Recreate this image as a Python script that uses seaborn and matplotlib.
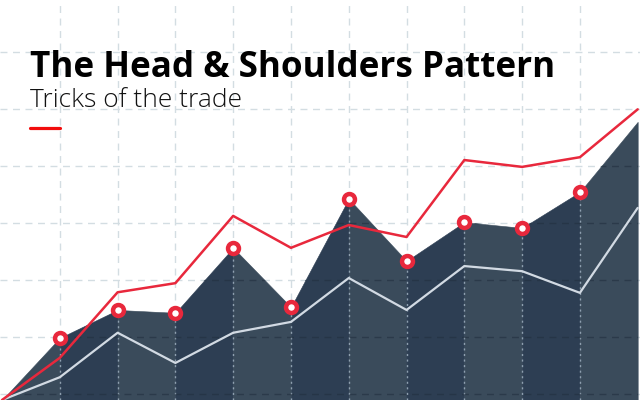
import numpy as np
import pandas as pd
import matplotlib
matplotlib.use("Agg")
import matplotlib.pyplot as plt
from matplotlib.patches import Polygon
from matplotlib.lines import Line2D
import seaborn as sns

# ---- data (chart units, one grid step = 1) ----
steps = list(range(12))
price = [0.0, 1.09, 1.58, 1.53, 2.67, 1.63, 3.53, 2.44, 3.12, 3.02, 3.65, 4.88]
upper = [0.0, 0.74, 1.89, 2.05, 3.23, 2.67, 3.07, 2.86, 4.21, 4.09, 4.26, 5.10]
lower = [0.0, 0.40, 1.18, 0.65, 1.18, 1.37, 2.14, 1.58, 2.35, 2.26, 1.88, 3.37]
marked = [1, 2, 3, 4, 5, 6, 7, 8, 9, 10]
title = "The Head & Shoulders Pattern"
subtitle = "Tricks of the trade"

df = pd.DataFrame({"step": steps, "price": price, "upper": upper, "lower": lower})
dm = df[df["step"].isin(marked)]

sns.set_style("white")
plt.rcParams["font.family"] = ["Open Sans", "DejaVu Sans"]

fig = plt.figure(figsize=(6.4, 4), dpi=100)
ax = fig.add_axes([0, 0, 1, 1])
YMIN, YMAX = 0.0, 7.018
ax.set_xlim(-0.035, 11.04)
ax.set_ylim(YMIN, YMAX)

# background grid
gridy = np.arange(0.1, 7.0, 1.0)
ax.set_xticks(steps[1:11])
ax.set_yticks(gridy)
ax.grid(True, color="#d3dde2", lw=1.0, ls=(0, (5, 4)))
ax.tick_params(length=0, labelbottom=False, labelleft=False)
for s in ax.spines.values():
    s.set_visible(False)
ax.set_axisbelow(True)

# banded area
light, dark = "#3a4b5b", "#2d3e53"
for i in range(len(steps) - 1):
    c = light if i % 2 == 0 else dark
    ax.fill_between(steps[i:i + 2], [YMIN, YMIN], price[i:i + 2],
                    color=c, lw=0.4, edgecolor=c, zorder=2)

clip = Polygon([(0, YMIN)] + list(zip(steps, price)) + [(11, YMIN)],
               closed=True, transform=ax.transData)

# grid inside the area
for x in steps[1:11]:
    ln, = ax.plot([x, x], [YMIN, YMAX], color="#8fa0b0", lw=1.0,
                  ls=(0, (1.5, 2.5)), zorder=3)
    ln.set_clip_path(clip)
for y in gridy:
    ln, = ax.plot([-1, 12], [y, y], color="#22303f", lw=1.0, alpha=0.6,
                  ls=(0, (5, 4)), zorder=3)
    ln.set_clip_path(clip)

# lines
sns.lineplot(data=df, x="step", y="lower", color="#d2dae3", lw=1.6, ax=ax, zorder=4)
sns.lineplot(data=df, x="step", y="upper", color="#e8283c", lw=1.8, ax=ax, zorder=5)
sns.scatterplot(data=dm, x="step", y="price", s=62, marker="o", color="white",
                edgecolor="#e8283c", linewidth=3.2, ax=ax, zorder=6)
ax.set_xlabel("")
ax.set_ylabel("")

# titles
fig.text(30 / 640, 1 - 77 / 400, title, fontsize=25.2, fontweight="bold",
         color="#000000", va="baseline", ha="left")
fig.text(30 / 640, 1 - 107 / 400, subtitle, fontsize=19, fontweight="light",
         color="#111111", va="baseline", ha="left")
fig.add_artist(Line2D([30 / 640, 60 / 640], [1 - 128 / 400, 1 - 128 / 400],
                      color="#f20d0d", lw=2.3, transform=fig.transFigure))

fig.savefig("out.png", dpi=100)
